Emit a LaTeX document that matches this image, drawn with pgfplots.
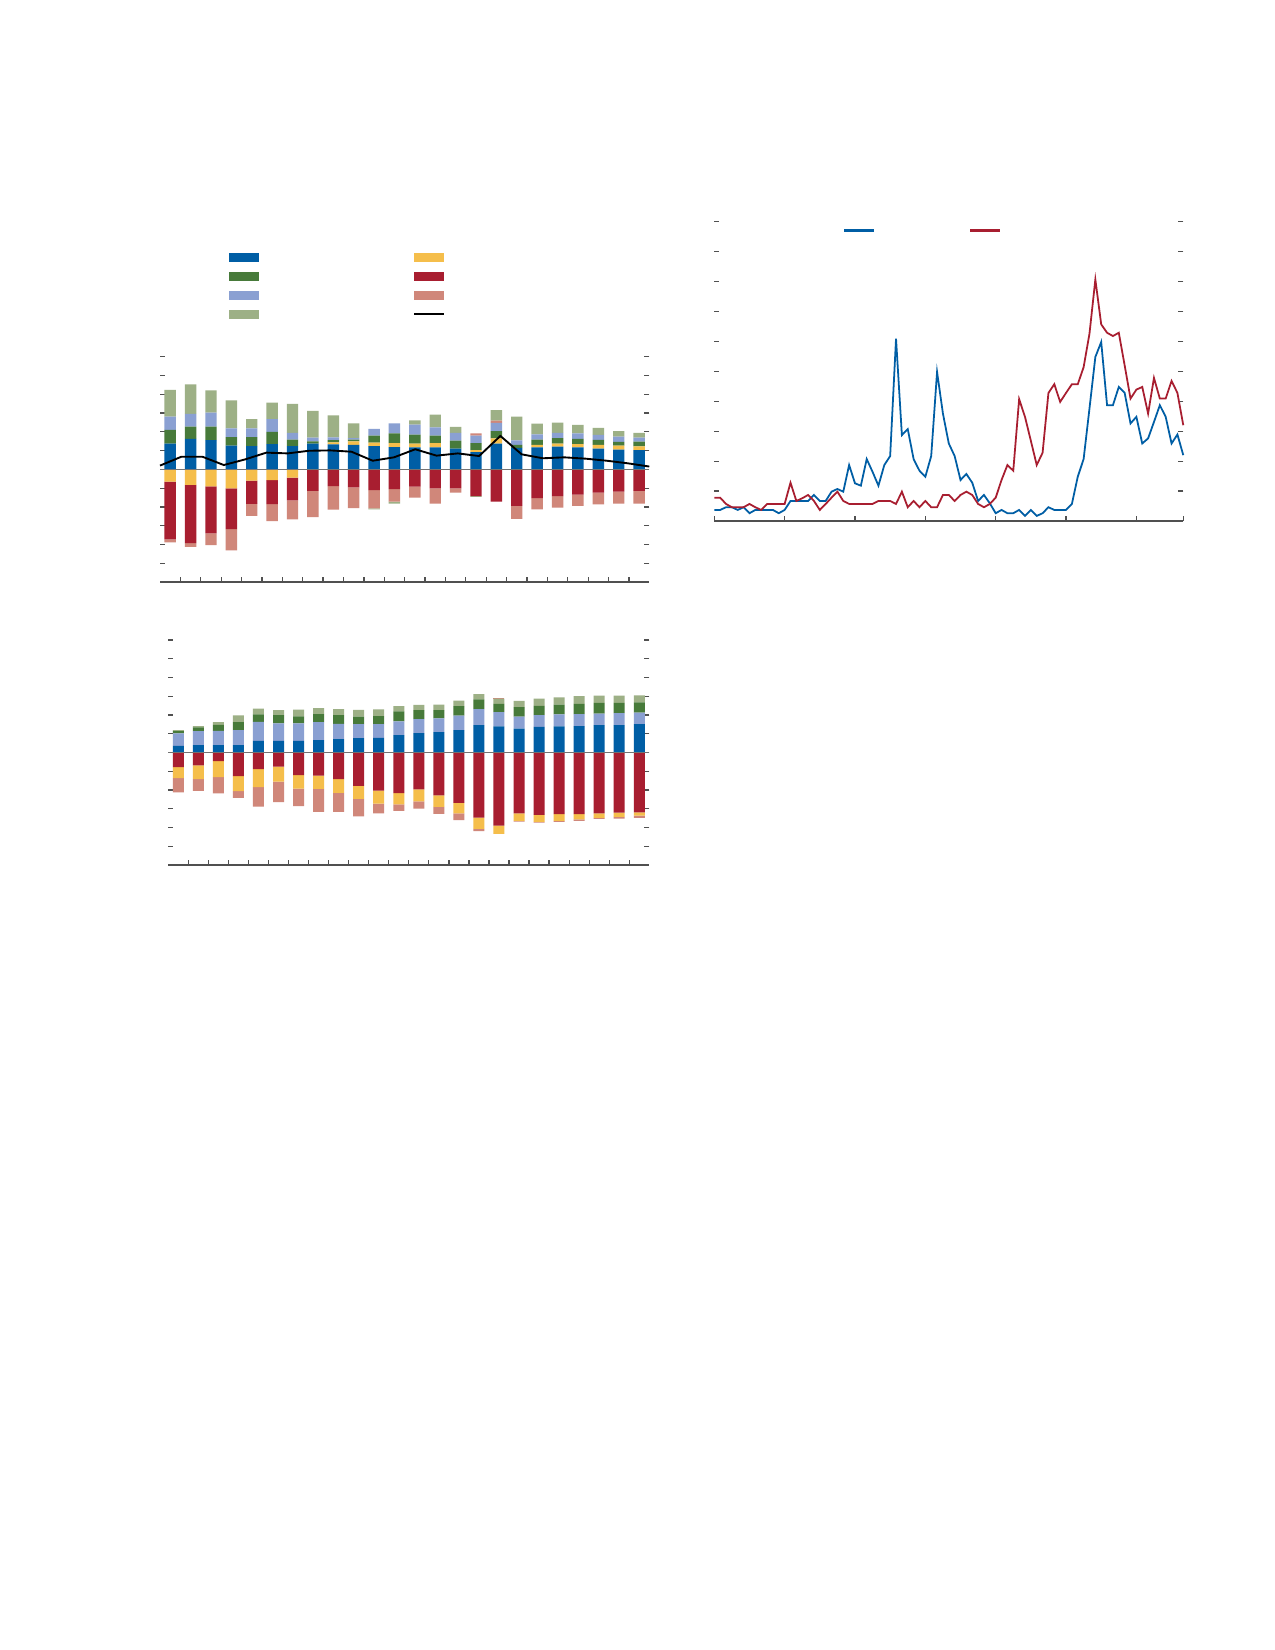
\documentclass[border=0pt]{standalone}
\usepackage{pgfplots}
\usepackage{pgfplotstable}
\pgfplotsset{compat=1.18}
\definecolor{cblue}{RGB}{0,94,165}
\definecolor{cgreen}{RGB}{71,122,58}
\definecolor{clblue}{RGB}{138,160,210}
\definecolor{clgreen}{RGB}{157,176,134}
\definecolor{cyellow}{RGB}{245,190,75}
\definecolor{cred}{RGB}{168,30,48}
\definecolor{csalmon}{RGB}{208,135,122}
\definecolor{tickc}{RGB}{80,80,80}
\definecolor{zeroc}{RGB}{115,115,115}

% top-left: positive components
\pgfplotstableread{
x b y g lb s lg
0 1.37 0 0.73 0.71 0 1.42
1 1.62 0 0.66 0.67 0 1.58
2 1.56 0 0.71 0.75 0 1.19
3 1.26 0 0.46 0.46 0 1.49
4 1.24 0 0.48 0.46 0 0.50
5 1.35 0 0.64 0.69 0 0.87
6 1.24 0 0.34 0.36 0 1.55
7 1.37 0 0.12 0.20 0 1.42
8 1.33 0.11 0.12 0.14 0 1.17
9 1.31 0.18 0.09 0.09 0 0.78
10 1.24 0.18 0.37 0.36 0 0
11 1.19 0.21 0.52 0.53 0 0
12 1.17 0.20 0.48 0.53 0 0.23
13 1.17 0.23 0.39 0.44 0 0.69
14 1.10 0 0.43 0.41 0 0.32
15 0.92 0.10 0.38 0.40 0.12 0
16 1.37 0.28 0.39 0.43 0.12 0.57
17 1.14 0 0.16 0.24 0 1.27
18 1.17 0.14 0.27 0.28 0 0.57
19 1.21 0.16 0.30 0.27 0 0.55
20 1.17 0.18 0.28 0.28 0 0.46
21 1.10 0.20 0.27 0.27 0 0.37
22 1.05 0.21 0.21 0.27 0 0.30
23 1.03 0.20 0.25 0.21 0 0.25
}\tlpos
% top-left: negative components
\pgfplotstableread{
x y r s lg
0 -0.66 -3.07 -0.16 0
1 -0.82 -3.11 -0.20 0
2 -0.91 -2.50 -0.62 0
3 -1.01 -2.17 -1.14 0
4 -0.60 -1.24 -0.64 0
5 -0.57 -1.28 -0.91 0
6 -0.44 -1.21 -1.01 0
7 0 -1.15 -1.39 0
8 0 -0.89 -1.26 0
9 0 -0.96 -1.10 0
10 0 -1.10 -0.98 -0.05
11 0 -1.05 -0.67 -0.10
12 0 -0.92 -0.59 0
13 0 -1.01 -0.82 0
14 0 -1.01 -0.23 0
15 0 -1.42 0 -0.05
16 0 -1.72 0 0
17 0 -1.95 -0.69 0
18 0 -1.53 -0.60 0
19 0 -1.42 -0.62 0
20 0 -1.35 -0.60 0
21 0 -1.24 -0.62 0
22 0 -1.19 -0.64 0
23 0 -1.14 -0.69 0
}\tlneg
% top-left: black line
\pgfplotstableread{
x v
-0.5 0.20
0.543 0.67
1.587 0.67
2.630 0.23
3.674 0.53
4.717 0.89
5.761 0.85
6.804 0.99
7.848 1.01
8.891 0.94
9.935 0.46
10.978 0.64
12.022 1.07
13.065 0.73
14.109 0.85
15.152 0.71
16.196 1.78
17.239 0.80
18.283 0.59
19.326 0.64
20.370 0.57
21.413 0.46
22.457 0.32
23.5 0.15
}\tlline
% bottom-left: positive components
\pgfplotstableread{
x b lb g lg s
0 0.36 0.66 0.12 0.05 0
1 0.39 0.75 0.20 0.07 0
2 0.39 0.77 0.32 0.14 0
3 0.39 0.80 0.43 0.36 0
4 0.62 1.01 0.41 0.30 0
5 0.62 0.94 0.43 0.27 0
6 0.62 0.94 0.37 0.36 0
7 0.66 0.96 0.43 0.32 0
8 0.71 0.82 0.46 0.32 0
9 0.77 0.75 0.39 0.36 0
10 0.78 0.73 0.43 0.36 0
11 0.93 0.73 0.53 0.28 0
12 1.03 0.75 0.48 0.28 0
13 1.09 0.73 0.44 0.30 0
14 1.19 0.78 0.50 0.30 0
15 1.46 0.85 0.53 0.28 0
16 1.39 0.77 0.44 0.28 0.05
17 1.28 0.64 0.50 0.34 0
18 1.37 0.62 0.50 0.39 0
19 1.39 0.64 0.52 0.39 0
20 1.41 0.64 0.55 0.41 0
21 1.46 0.62 0.57 0.39 0
22 1.46 0.64 0.55 0.39 0
23 1.51 0.62 0.55 0.37 0
}\blpos
% bottom-left: negative components
\pgfplotstableread{
x r y s
0 -0.78 -0.59 -0.75
1 -0.69 -0.73 -0.62
2 -0.46 -0.85 -0.87
3 -1.26 -0.80 -0.36
4 -0.89 -0.96 -1.03
5 -0.75 -0.80 -1.09
6 -1.21 -0.71 -0.94
7 -1.23 -0.71 -1.23
8 -1.42 -0.73 -1.01
9 -1.78 -0.69 -0.93
10 -2.03 -0.69 -0.53
11 -2.17 -0.60 -0.34
12 -1.96 -0.64 -0.39
13 -2.28 -0.62 -0.37
14 -2.69 -0.55 -0.37
15 -3.47 -0.60 -0.12
16 -3.90 -0.44 0
17 -3.24 -0.41 -0.04
18 -3.33 -0.37 -0.04
19 -3.29 -0.36 -0.05
20 -3.29 -0.28 -0.07
21 -3.24 -0.25 -0.05
22 -3.20 -0.23 -0.09
23 -3.19 -0.18 -0.12
}\blneg
% right: two lines
\pgfplotstableread{
x b r
0 0.37 0.78
1 0.37 0.78
2 0.46 0.57
3 0.46 0.46
4 0.37 0.46
5 0.46 0.46
6 0.26 0.57
7 0.37 0.46
8 0.37 0.37
9 0.37 0.57
10 0.37 0.57
11 0.26 0.57
12 0.37 0.57
13 0.67 1.28
14 0.67 0.67
15 0.67 0.76
16 0.67 0.87
17 0.87 0.67
18 0.67 0.37
19 0.67 0.57
20 0.98 0.78
21 1.07 0.98
22 0.98 0.67
23 1.87 0.57
24 1.26 0.57
25 1.18 0.57
26 2.07 0.57
27 1.64 0.57
28 1.18 0.67
29 1.87 0.67
30 2.17 0.67
31 6.09 0.57
32 2.87 0.98
33 3.07 0.46
34 2.07 0.67
35 1.68 0.46
36 1.48 0.67
37 2.17 0.46
38 4.98 0.46
39 3.59 0.87
40 2.59 0.87
41 2.17 0.67
42 1.37 0.87
43 1.57 0.98
44 1.28 0.87
45 0.67 0.57
46 0.87 0.46
47 0.59 0.57
48 0.26 0.78
49 0.37 1.37
50 0.26 1.87
51 0.26 1.68
52 0.37 4.07
53 0.17 3.48
54 0.37 2.68
55 0.17 1.87
56 0.26 2.28
57 0.46 4.28
58 0.37 4.57
59 0.37 3.98
60 0.37 4.28
61 0.57 4.57
62 1.48 4.57
63 2.07 5.14
64 3.76 6.26
65 5.48 8.07
66 5.98 6.57
67 3.87 6.29
68 3.87 6.18
69 4.48 6.29
70 4.28 5.20
71 3.26 4.09
72 3.48 4.39
73 2.59 4.48
74 2.76 3.59
75 3.31 4.78
76 3.87 4.09
77 3.48 4.09
78 2.59 4.68
79 2.89 4.28
80 2.20 3.20
}\rline

\pgfplotsset{
  common/.style={scale only axis, axis line style={draw=none},
    tick align=inside, major tick length=2.4pt,
    tick style={color=tickc, line width=0.6pt},
    xticklabels={}, yticklabels={}, clip=false},
  topbar/.style={common, width=234.86pt, height=108.14pt,
    at={(76.8pt,-279.36pt)}, anchor=south west,
    xmin=-0.5, xmax=23.5, ymin=-6, ymax=6},
  botbar/.style={common, width=230.88pt, height=108pt,
    at={(80.78pt,-415.2pt)}, anchor=south west,
    xmin=-0.5, xmax=23.5, ymin=-6, ymax=6},
  barticks/.style={xtick={0.5,1.5,...,22.5}, ytick={-5,-4,...,6},
    xtick pos=bottom, ytick pos=both},
}

\begin{document}
\begin{tikzpicture}
\path[fill=white] (0pt,0pt) rectangle (612pt,-792pt);

% ---------- top-left legend ----------
\fill[cblue]   (109.92pt,-121.6pt) rectangle (124.32pt,-125.9pt);
\fill[cgreen]  (109.92pt,-130.7pt) rectangle (124.32pt,-134.9pt);
\fill[clblue]  (109.92pt,-139.7pt) rectangle (124.32pt,-144.0pt);
\fill[clgreen] (109.92pt,-148.8pt) rectangle (124.32pt,-153.0pt);
\fill[cyellow] (198.9pt,-121.6pt) rectangle (213.3pt,-125.9pt);
\fill[cred]    (198.9pt,-130.7pt) rectangle (213.3pt,-134.9pt);
\fill[csalmon] (198.9pt,-139.7pt) rectangle (213.3pt,-144.0pt);
\draw[black, line width=0.9pt] (198.9pt,-150.7pt) -- (213.3pt,-150.7pt);

% ---------- top-left chart ----------
\begin{axis}[topbar, barticks, ybar stacked, bar width=0.56]
\addplot[fill=cblue, draw=none] table[x=x,y=b]{\tlpos};
\addplot[fill=cyellow, draw=none] table[x=x,y=y]{\tlpos};
\addplot[fill=cgreen, draw=none] table[x=x,y=g]{\tlpos};
\addplot[fill=clblue, draw=none] table[x=x,y=lb]{\tlpos};
\addplot[fill=csalmon, draw=none] table[x=x,y=s]{\tlpos};
\addplot[fill=clgreen, draw=none] table[x=x,y=lg]{\tlpos};
\draw[tickc, line width=0.7pt] (rel axis cs:0,0) -- (rel axis cs:1,0);
\end{axis}
\begin{axis}[topbar, hide axis, ybar stacked, bar width=0.56]
\addplot[fill=cyellow, draw=none] table[x=x,y=y]{\tlneg};
\addplot[fill=cred, draw=none] table[x=x,y=r]{\tlneg};
\addplot[fill=csalmon, draw=none] table[x=x,y=s]{\tlneg};
\addplot[fill=clgreen, draw=none] table[x=x,y=lg]{\tlneg};
\end{axis}
\begin{axis}[topbar, hide axis]
\draw[zeroc, line width=0.6pt] (axis cs:-0.5,0) -- (axis cs:23.5,0);
\addplot[black, line width=0.9pt, mark=none] table[x=x,y=v]{\tlline};
\end{axis}

% ---------- bottom-left chart ----------
\begin{axis}[botbar, barticks, ybar stacked, bar width=0.55]
\addplot[fill=cblue, draw=none] table[x=x,y=b]{\blpos};
\addplot[fill=clblue, draw=none] table[x=x,y=lb]{\blpos};
\addplot[fill=cgreen, draw=none] table[x=x,y=g]{\blpos};
\addplot[fill=clgreen, draw=none] table[x=x,y=lg]{\blpos};
\addplot[fill=csalmon, draw=none] table[x=x,y=s]{\blpos};
\draw[tickc, line width=0.7pt] (rel axis cs:0,0) -- (rel axis cs:1,0);
\end{axis}
\begin{axis}[botbar, hide axis, ybar stacked, bar width=0.55]
\addplot[fill=cred, draw=none] table[x=x,y=r]{\blneg};
\addplot[fill=cyellow, draw=none] table[x=x,y=y]{\blneg};
\addplot[fill=csalmon, draw=none] table[x=x,y=s]{\blneg};
\end{axis}
\begin{axis}[botbar, hide axis]
\draw[zeroc, line width=0.6pt] (axis cs:-0.5,0) -- (axis cs:23.5,0);
\end{axis}

% ---------- right chart ----------
\draw[cblue, line width=1.1pt] (405.26pt,-110.7pt) -- (419.66pt,-110.7pt);
\draw[cred, line width=1.1pt] (465.6pt,-110.7pt) -- (480pt,-110.7pt);
\begin{axis}[common, width=225.12pt, height=143.66pt,
  at={(342.86pt,-250.08pt)}, anchor=south west,
  xmin=0, xmax=80, ymin=0, ymax=10,
  xtick={0,12,24,36,48,60,72,80}, ytick={1,2,...,10},
  xtick pos=bottom, ytick pos=both]
\addplot[cblue, line width=0.85pt, mark=none] table[x=x,y=b]{\rline};
\addplot[cred, line width=0.85pt, mark=none] table[x=x,y=r]{\rline};
\draw[tickc, line width=0.7pt] (rel axis cs:0,0) -- (rel axis cs:1,0);
\end{axis}
\end{tikzpicture}
\end{document}
